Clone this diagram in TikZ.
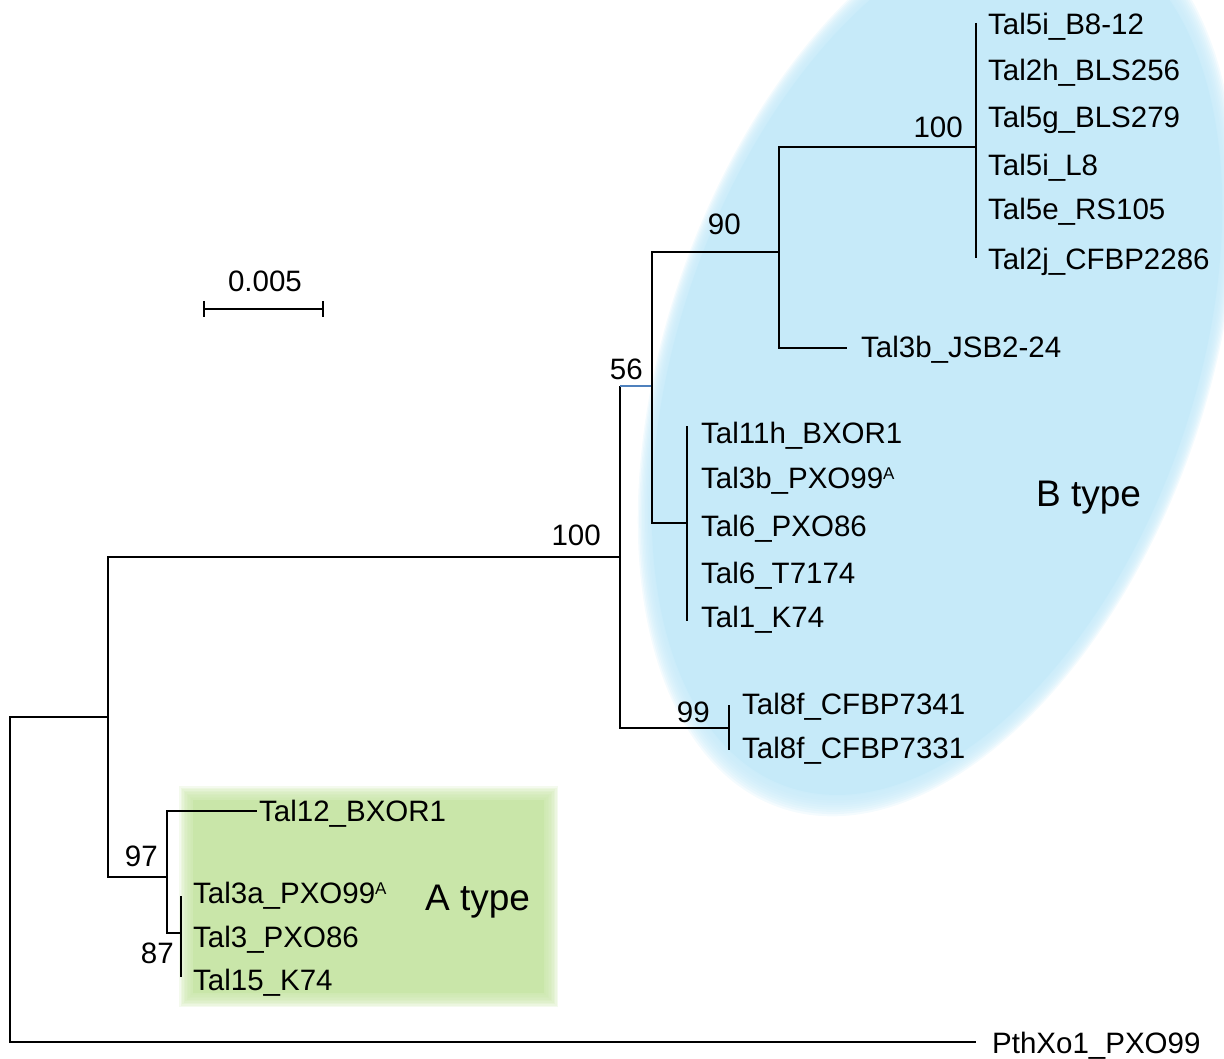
\documentclass[tikz,border=0pt]{standalone}
\usepackage{fontspec}
\setmainfont{Liberation Sans}
\definecolor{bfill}{RGB}{198,234,249}
\definecolor{gfill}{RGB}{201,230,169}
\definecolor{bline}{RGB}{79,129,189}
\newcommand{\supA}{\raisebox{9pt}{\fontsize{17}{17}\selectfont A}}
\begin{document}
\begin{tikzpicture}[x=1pt,y=-1pt,
  br/.style={line width=1.5pt},
  pv/.style={line width=1.3pt},
  lf/.style={anchor=base west, inner sep=0pt, font=\fontsize{29.5}{32}\selectfont},
  bs/.style={anchor=base east, inner sep=0pt, font=\fontsize{29.5}{32}\selectfont},
  ty/.style={anchor=base west, inner sep=0pt, font=\fontsize{37}{40}\selectfont}]
\useasboundingbox (0,0) rectangle (1224,1059);
% ---- background: B type ellipse with soft edge
\begin{scope}[shift={(937,360)}, x={(292pt,156pt)}, y={(0pt,-417pt)}]
  \foreach \rr in {1.025,1.020,1.015,1.010,1.005,1.000,0.995,0.990,0.985,0.980}{
    \fill[bfill, opacity=0.2] plot[domain=0:360, samples=120, smooth cycle] ({\rr*cos(\x)},{\rr*sin(\x)});
  }
  \fill[bfill] plot[domain=0:360, samples=120, smooth cycle] ({0.977*cos(\x)},{0.977*sin(\x)});
\end{scope}
% ---- background: A type box with soft edge
\foreach \d in {7,5.5,4,2.5,1,-0.5,-2,-3.5,-5,-6.5}{
  \fill[gfill, opacity=0.2] ({186-(\d)},{793-(\d)}) rectangle ({551+(\d)},{1000+(\d)});
}
\fill[gfill] (193,800) rectangle (544,993);
% ---- tree coordinates
\coordinate (rt) at (10,880);
\coordinate (nAB) at (108,717);
\coordinate (nB) at (620,557);
\coordinate (n56) at (652,386);
\coordinate (n90) at (779,252);
\coordinate (n100) at (976,147);
\coordinate (p1t) at (976,23);
\coordinate (p1b) at (976,258);
\coordinate (jsb) at (847,348);
\coordinate (n11) at (687,523);
\coordinate (p2t) at (687,426);
\coordinate (p2b) at (687,621);
\coordinate (n99) at (729,728);
\coordinate (p3t) at (729,705);
\coordinate (p3b) at (729,750);
\coordinate (nA) at (167,877);
\coordinate (t12) at (257,811);
\coordinate (n87) at (181,933);
\coordinate (p4t) at (181,896);
\coordinate (p4b) at (181,977);
\coordinate (pth) at (976,1042);
% ---- branches
\draw[br] (rt) |- (nAB);
\draw[br] (rt) |- (pth);
\draw[br] (nAB) |- (nB);
\draw[br] (nAB) |- (nA);
\draw[br] (nB) -- (nB |- n56);
\draw[line width=1.2pt, bline] (nB |- n56) -- (n56);
\draw[br] (nB) |- (n99);
\draw[br] (n56) |- (n90);
\draw[br] (n56) |- (n11);
\draw[br] (n90) |- (n100);
\draw[br] (n90) |- (jsb);
\draw[br] (nA) |- (t12);
\draw[br] (nA) |- (n87);
\draw[pv] (p1t) -- (p1b);
\draw[pv] (p2t) -- (p2b);
\draw[pv] (p3t) -- (p3b);
\draw[pv] (p4t) -- (p4b);
% ---- scale bar
\coordinate (s1) at (204,309);
\coordinate (s2) at (323,309);
\coordinate (s1t) at (204,301);
\coordinate (s1b) at (204,317);
\coordinate (s2t) at (323,301);
\coordinate (s2b) at (323,317);
\draw[br] (s1) -- (s2);
\draw[br] (s1t) -- (s1b);
\draw[br] (s2t) -- (s2b);
\node[anchor=base, inner sep=0pt, font=\fontsize{29.5}{32}\selectfont] (sl) at (265,292) {0.005};
% ---- leaf labels
\node[lf] (l1) at (988,35) {Tal5i\_B8-12};
\node[lf] (l2) at (988,81) {Tal2h\_BLS256};
\node[lf] (l3) at (988,128) {Tal5g\_BLS279};
\node[lf] (l4) at (988,176) {Tal5i\_L8};
\node[lf] (l5) at (988,220) {Tal5e\_RS105};
\node[lf] (l6) at (988,270) {Tal2j\_CFBP2286};
\node[lf] (l7) at (861,358) {Tal3b\_JSB2-24};
\node[lf] (l8) at (701,443) {Tal11h\_BXOR1};
\node[lf] (l9) at (701,488) {Tal3b\_PXO99\supA};
\node[lf] (l10) at (701,536) {Tal6\_PXO86};
\node[lf] (l11) at (701,583) {Tal6\_T7174};
\node[lf] (l12) at (701,627) {Tal1\_K74};
\node[lf] (l13) at (742,714) {Tal8f\_CFBP7341};
\node[lf] (l14) at (742,758) {Tal8f\_CFBP7331};
\node[lf] (l15) at (259,821) {Tal12\_BXOR1};
\node[lf] (l16) at (193,903) {Tal3a\_PXO99\supA};
\node[lf] (l17) at (193,947) {Tal3\_PXO86};
\node[lf] (l18) at (193,990) {Tal15\_K74};
\node[lf] (l19) at (992,1053) {PthXo1\_PXO99};
% ---- bootstrap values
\node[bs] (b1) at (963,138) {100};
\node[bs] (b2) at (741,235) {90};
\node[bs] (b3) at (643,380) {56};
\node[bs] (b4) at (601,545) {100};
\node[bs] (b5) at (710,722) {99};
\node[bs] (b6) at (158,866) {97};
\node[bs] (b7) at (174,963) {87};
% ---- group labels
\node[ty] (bt) at (1036,506) {B type};
\node[ty] (at) at (425,910) {A type};
\end{tikzpicture}
\end{document}
